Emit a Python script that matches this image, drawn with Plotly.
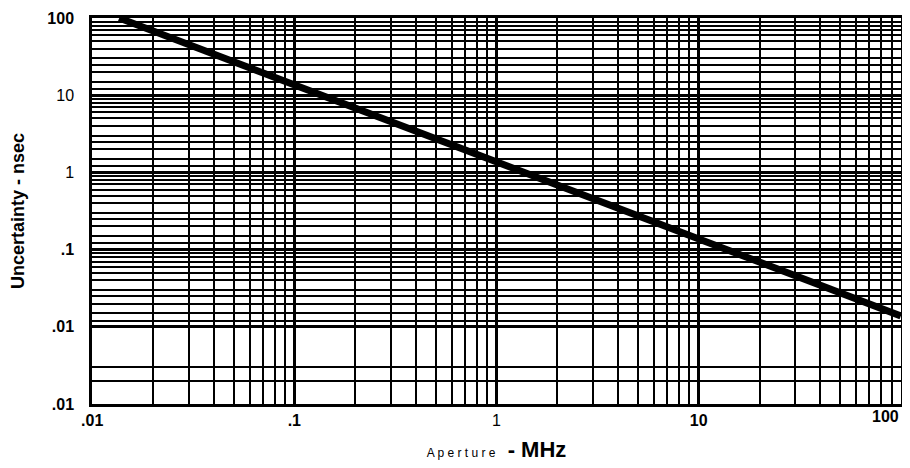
import plotly.graph_objects as go

# Lecture sur le graphique (échelles log-log)
aperture_mhz = [0.0136, 0.1, 1, 10, 100]
uncertainty_ns = [100, 13.6, 1.4, 0.135, 0.0138]

x_ticks = [0.01, 0.1, 1, 10]
x_labels = ["<b>.01</b>", "<b>.1</b>", "1", "<b>10</b>"]
x_last_label = "<b>100</b>"  # posé au bord droit, comme sur l'original
y_ticks = [0.001, 0.01, 0.1, 1, 10, 100]
y_labels = ["<b>.01</b>", "<b>.01</b>", "<b>.1</b>", "1", "10", "<b>100</b>"]

# grille du papier log (lignes intermédiaires)
x_minor = [m * 10 ** e for e in range(-2, 2) for m in range(2, 10)]
y_minor = [0.002, 0.003] + [m * 10 ** e for e in range(-2, 2)
                             for m in (1.2, 1.5, 2, 2.5, 3, 4, 5, 6, 7, 8, 9)]

fig = go.Figure()
fig.add_trace(go.Scatter(
    x=aperture_mhz, y=uncertainty_ns, mode="lines",
    line=dict(color="black", width=7), showlegend=False,
))

tick_font = dict(family="Liberation Sans, Arial", size=16, color="black")
axis_common = dict(
    type="log", showline=True, linecolor="black", linewidth=2.5, mirror=True,
    showgrid=True, gridcolor="black", gridwidth=3, ticks="", zeroline=False,
    tickfont=tick_font, automargin=False,
)

fig.update_xaxes(
    **axis_common, range=[-2.001, 2.001], tickvals=x_ticks, ticktext=x_labels,
    minor=dict(tickvals=x_minor, showgrid=True, gridcolor="black", gridwidth=2),
    title=dict(
        text="<span style='font-size:12px;font-weight:normal'>A p e r t u r e</span>"
             "  <b>- MHz</b>",
        font=dict(family="Liberation Sans, Arial", size=22, color="black"),
        standoff=14,
    ),
)
fig.update_yaxes(
    **axis_common, range=[-3.001, 2.001], tickvals=y_ticks, ticktext=y_labels,
    ticklabelstandoff=12,
    minor=dict(tickvals=y_minor, showgrid=True, gridcolor="black", gridwidth=2),
    title=dict(
        text="<b>Uncertainty - nsec</b>",
        font=dict(family="Liberation Sans, Arial", size=18, color="black"),
        standoff=20,
    ),
)

fig.add_annotation(
    x=1, xref="paper", y=0, yref="paper", text=x_last_label, showarrow=False,
    xanchor="right", yanchor="top", xshift=0, yshift=-2, font=tick_font,
)

fig.update_layout(
    width=902, height=460,
    margin=dict(l=84, r=9, t=10, b=64),
    paper_bgcolor="white", plot_bgcolor="white",
)

fig.write_html("out.html")
